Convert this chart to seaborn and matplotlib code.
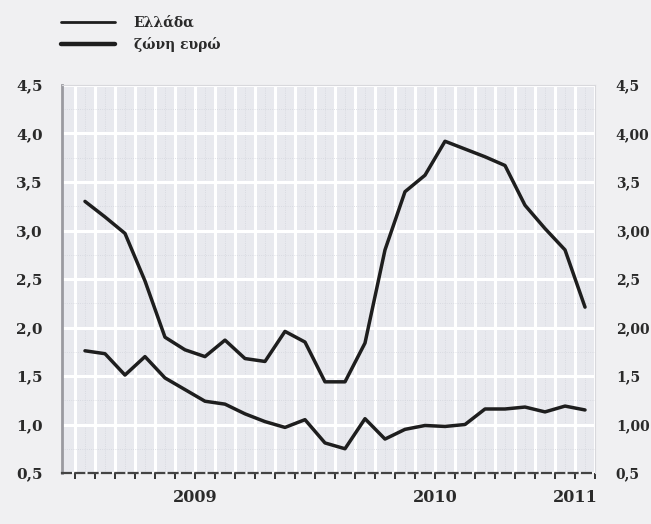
import numpy as np
import pandas as pd
import matplotlib
matplotlib.use("Agg")
import matplotlib.pyplot as plt
import seaborn as sns
from matplotlib.lines import Line2D
from matplotlib.ticker import FixedLocator

# monthly observations, Jan 2009 .. Feb 2011
months = pd.period_range("2009-01", "2011-02", freq="M").strftime("%Y-%m").tolist()
greece = [3.30, 3.14, 2.97, 2.48, 1.90, 1.77, 1.70, 1.87, 1.68, 1.65,
          1.96, 1.85, 1.44, 1.44, 1.84, 2.80, 3.40, 3.57, 3.92, 3.84,
          3.76, 3.67, 3.26, 3.02, 2.80, 2.21]
euro = [1.76, 1.73, 1.51, 1.70, 1.48, 1.36, 1.24, 1.21, 1.11, 1.03,
        0.97, 1.05, 0.81, 0.75, 1.06, 0.85, 0.95, 0.99, 0.98, 1.00,
        1.16, 1.16, 1.18, 1.13, 1.19, 1.15]
series_names = ["Ελλάδα", "ζώνη ευρώ"]
year_labels = ["2009", "2010", "2011"]
year_pos = [5.5, 17.5, 24.5]
left_ticks = [0.5, 1.0, 1.5, 2.0, 2.5, 3.0, 3.5, 4.0, 4.5]
left_labels = ["0,5", "1,0", "1,5", "2,0", "2,5", "3,0", "3,5", "4,0", "4,5"]
right_labels = ["0,5", "1,00", "1,5", "2,00", "2,5", "3,00", "3,5", "4,00", "4,5"]

df = pd.DataFrame({
    "k": list(range(len(months))) * 2,
    "value": greece + euro,
    "series": [series_names[0]] * len(months) + [series_names[1]] * len(months),
})

sns.set_theme(style="white")
plt.rcParams["font.family"] = ["DejaVu Serif", "Liberation Serif"]
TXT = "#2a2a2a"

fig = plt.figure(figsize=(6.51, 5.24), dpi=100, facecolor="#f0f0f2")
ax = fig.add_axes([0.0952, 0.0973, 0.8188, 0.7405])
ax.set_facecolor("#e8e9ee")

sns.lineplot(data=df, x="k", y="value", hue="series", size="series",
             sizes={series_names[0]: 2.5, series_names[1]: 2.5},
             palette={series_names[0]: "#1e1e1e", series_names[1]: "#1e1e1e"},
             legend=False, ax=ax)

ax.set_xlim(-1.15, 25.5)
ax.set_ylim(0.5, 4.5)

# monthly grid / ticks at month boundaries
bounds = np.arange(-0.5, len(months) + 0.5, 1.0)
ax.set_xticks(bounds)
ax.set_xticklabels([])
ax.yaxis.set_major_locator(FixedLocator(left_ticks))
ax.set_yticklabels(left_labels, fontsize=11, fontweight="bold", color=TXT)
ax.grid(True, color="white", linewidth=2.2)
ax.set_xticks(bounds[:-1] + 0.5, minor=True)
ax.set_yticks(np.arange(0.75, 4.5, 0.5), minor=True)
ax.grid(True, which="minor", color="#d4d6dd", linewidth=0.6, linestyle=":")
ax.tick_params(axis="x", which="major", direction="out", length=4, width=1.4,
               color="#333333", bottom=True)
ax.tick_params(axis="x", which="minor", length=0)
ax.tick_params(axis="y", which="both", length=0, pad=14)
ax.set_xlabel("")
ax.set_ylabel("")

for side in ["top", "right"]:
    ax.spines[side].set_color("#d8d8dc")
    ax.spines[side].set_linewidth(0.8)
ax.spines["left"].set_color("#9a9aa0")
ax.spines["left"].set_linewidth(2.0)
ax.spines["bottom"].set_color("#444444")
ax.spines["bottom"].set_linewidth(1.6)
ax.spines["bottom"].set_linestyle((0, (4, 2)))

for lab, pos in zip(year_labels, year_pos):
    ax.text(pos, -0.062, lab, transform=ax.get_xaxis_transform(), ha="center",
            va="center", fontsize=11.5, fontweight="bold", color=TXT)

ax2 = ax.twinx()
ax2.set_ylim(ax.get_ylim())
ax2.yaxis.set_major_locator(FixedLocator(left_ticks))
ax2.set_yticklabels(right_labels, fontsize=10, fontweight="bold", color=TXT)
ax2.tick_params(axis="y", length=0, pad=15)
ax2.grid(False)
for s in ax2.spines.values():
    s.set_visible(False)

handles = [Line2D([], [], color="#1e1e1e", lw=2.0),
           Line2D([], [], color="#1e1e1e", lw=3.2)]
fig.legend(handles, series_names, loc="upper left", bbox_to_anchor=(0.075, 0.994),
           frameon=False, handlelength=3.9, handletextpad=1.3, labelspacing=0.55,
           prop={"size": 10, "weight": "bold"}, labelcolor=TXT)

fig.savefig("out.png", dpi=100, facecolor=fig.get_facecolor())
